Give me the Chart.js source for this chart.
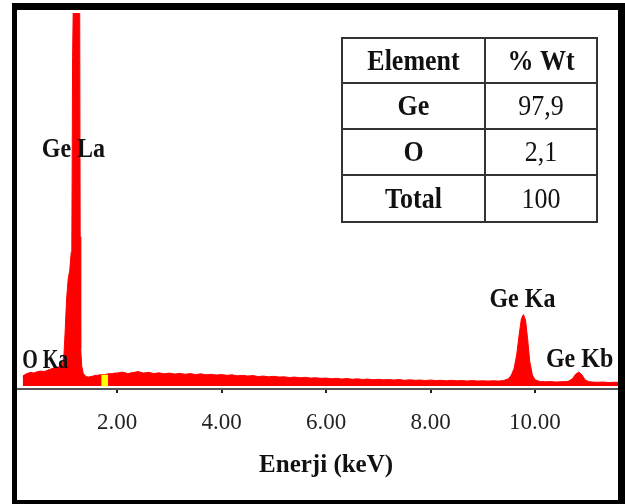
<!DOCTYPE html>
<html><head><meta charset="utf-8">
<script src="https://cdn.jsdelivr.net/npm/chart.js@4"></script>
<style>html,body{margin:0;padding:0;background:#fff;} canvas{display:block;}</style>
</head><body>
<canvas id="c" width="625" height="504" style="width:625px;height:504px"></canvas>
<script>
// ---- Data ----
const energy = [
  0.19,0.25,0.30,0.35,0.40,0.45,0.50,0.55,0.60,0.65,0.70,0.75,0.80,0.85,0.90,0.95,0.98,
  1.00,1.03,1.06,1.09,1.12,1.13,1.145,1.165,1.20,1.24,1.28,1.29,1.30,1.32,1.35,1.40,
  1.45,1.50,1.55,1.60,1.65,1.70,1.75,1.80,1.85,1.90,1.95,
  2.0,2.1,2.2,2.3,2.4,2.5,2.6,2.7,2.8,2.9,
  3.0,3.1,3.2,3.3,3.4,3.5,3.6,3.7,3.8,3.9,
  4.0,4.1,4.2,4.3,4.4,4.5,4.6,4.7,4.8,4.9,
  5.0,5.1,5.2,5.3,5.4,5.5,5.6,5.7,5.8,5.9,
  6.0,6.1,6.2,6.3,6.4,6.5,6.6,6.7,6.8,6.9,
  7.0,7.1,7.2,7.3,7.4,7.5,7.6,7.7,7.8,7.9,
  8.0,8.1,8.2,8.3,8.4,8.5,8.6,8.7,8.8,8.9,
  9.0,9.1,9.2,9.3,9.4,9.5,9.55,9.6,9.65,9.7,9.74,9.78,9.82,9.86,9.9,9.95,10.0,
  10.1,10.2,10.3,10.4,10.5,10.6,10.65,10.72,10.78,10.84,10.9,10.96,11.02,
  11.1,11.2,11.3,11.4,11.5,11.61
];
const counts = [
  80,96,104,110,104,112,118,120,116,124,132,140,146,150,156,176,260,
  420,700,860,930,1080,1100,2650,3300,3600,3500,3300,1200,300,160,100,76,
  72,76,82,86,88,92,90,96,100,98,104,
  104,112,100,108,116,104,110,100,106,98,
  104,96,102,94,100,92,98,90,94,88,
  92,86,90,82,86,80,84,76,80,74,
  78,72,74,68,72,66,70,64,66,62,
  64,58,62,56,60,54,58,52,56,50,
  54,50,52,48,52,46,50,46,48,44,
  48,44,46,42,46,42,44,40,44,40,
  42,40,42,40,44,60,90,140,250,420,540,575,530,380,200,90,50,
  36,34,36,32,34,36,40,60,95,112,90,50,36,
  32,30,32,28,30,30
];
const tickValues = [2, 4, 6, 8, 10];
const tickLabels = ["2.00", "4.00", "6.00", "8.00", "10.00"];
const markerEnergy = [1.76];
const markerCounts = [88];
const peakNames = ["Ge La", "O Ka", "Ge Ka", "Ge Kb"];
const peakLabelEnergy = [1.16, 0.62, 9.76, 10.855];
const peakLabelCounts = [1842, 145, 635, 153];
const tableHeader = ["Element", "% Wt"];
const tableElements = ["Ge", "O", "Total"];
const tableWt = ["97,9", "2,1", "100"];
const axisTitle = "Enerji (keV)";

// ---- Styling ----
const serif = "'Liberation Serif', 'Times New Roman', serif";
Chart.defaults.font.family = serif;
const labelStyle = [
  { size: 24, sy: 1.15 },
  { size: 20, sy: 1.35 },
  { size: 24, sy: 1.15 },
  { size: 24, sy: 1.15 }
];

const spectrum = energy.map((e, i) => ({ x: e, y: counts[i] }));
const marker = markerEnergy.map((e, i) => ({ x: e, y: markerCounts[i] }));

function stretchedText(ctx, txt, x, y, font, sy) {
  ctx.save();
  ctx.font = font;
  ctx.translate(x, y);
  ctx.scale(1, sy);
  ctx.fillText(txt, 0, 0);
  ctx.restore();
}

const decorPlugin = {
  id: 'decor',
  afterDatasetsDraw(chart) {
    const ctx = chart.ctx, xs = chart.scales.x, ys = chart.scales.y;
    ctx.save();
    ctx.fillStyle = '#111';
    ctx.textAlign = 'center';
    ctx.textBaseline = 'alphabetic';
    peakNames.forEach((n, i) => {
      stretchedText(ctx, n, xs.getPixelForValue(peakLabelEnergy[i]),
        ys.getPixelForValue(peakLabelCounts[i]), "bold " + labelStyle[i].size + "px " + serif, labelStyle[i].sy);
    });
    ctx.restore();
  },
  afterDraw(chart) {
    const ctx = chart.ctx, xs = chart.scales.x;
    ctx.save();
    // axis title
    ctx.fillStyle = '#111';
    ctx.textAlign = 'center';
    ctx.textBaseline = 'alphabetic';
    stretchedText(ctx, axisTitle, xs.getPixelForValue(6), 472, "bold 25px " + serif, 1.0);

    // inset table
    const L = 342, R = 597, T = 38, B = 222, M = 485;
    const rows = [T, 83, 129, 175, B];
    ctx.fillStyle = '#fff';
    ctx.fillRect(L, T, R - L, B - T);
    ctx.strokeStyle = '#333';
    ctx.lineWidth = 2;
    ctx.strokeRect(L, T, R - L, B - T);
    ctx.beginPath();
    ctx.moveTo(M, T); ctx.lineTo(M, B);
    for (let k = 1; k < rows.length - 1; k++) { ctx.moveTo(L, rows[k]); ctx.lineTo(R, rows[k]); }
    ctx.stroke();
    ctx.fillStyle = '#111';
    const cellText = [[tableHeader[0], tableHeader[1], true, true]];
    tableElements.forEach((el, i) => cellText.push([el, tableWt[i], true, false]));
    cellText.forEach((r, i) => {
      const base = (rows[i] + rows[i + 1]) / 2 + 9;
      stretchedText(ctx, r[0], (L + M) / 2, base, (r[2] ? "bold " : "") + "26px " + serif, 1.12);
      stretchedText(ctx, r[1], (M + R) / 2, base, (r[3] ? "bold " : "") + "26px " + serif, 1.12);
    });

    // outer frame
    ctx.fillStyle = '#000';
    ctx.fillRect(12, 3, 613, 7);
    ctx.fillRect(12, 3, 5, 501);
    ctx.fillRect(618, 3, 7, 501);
    ctx.fillRect(12, 500, 613, 4);
    ctx.restore();
  }
};

new Chart(document.getElementById('c'), {
  type: 'line',
  data: {
    datasets: [
      {
        type: 'bar',
        data: marker,
        backgroundColor: '#ffff00',
        borderWidth: 0,
        barThickness: 6,
        order: 0
      },
      {
        data: spectrum,
        borderColor: '#ff0000',
        backgroundColor: '#ff0000',
        borderWidth: 1,
        pointRadius: 0,
        fill: 'origin',
        tension: 0,
        order: 1
      }
    ]
  },
  options: {
    responsive: false,
    animation: false,
    events: [],
    layout: { padding: { left: 17, right: 6, top: 13, bottom: 0 } },
    plugins: { legend: { display: false }, tooltip: { enabled: false } },
    scales: {
      x: {
        type: 'linear',
        min: 0.08,
        max: 11.61,
        offset: false,
        afterBuildTicks: s => { s.ticks = tickValues.map(v => ({ value: v })); },
        afterFit: s => { s.height = 115; },
        ticks: {
          callback: (v, i) => tickLabels[i],
          font: { size: 23 },
          color: '#222',
          padding: 16,
          maxRotation: 0,
          autoSkip: false
        },
        grid: { offset: false, drawOnChartArea: false, drawTicks: true, tickLength: 4, color: '#222', lineWidth: 2 },
        border: { display: true, color: '#555', width: 2 }
      },
      y: {
        display: false,
        min: -24,
        max: 3000
      }
    }
  },
  plugins: [decorPlugin]
});
</script>
</body></html>
